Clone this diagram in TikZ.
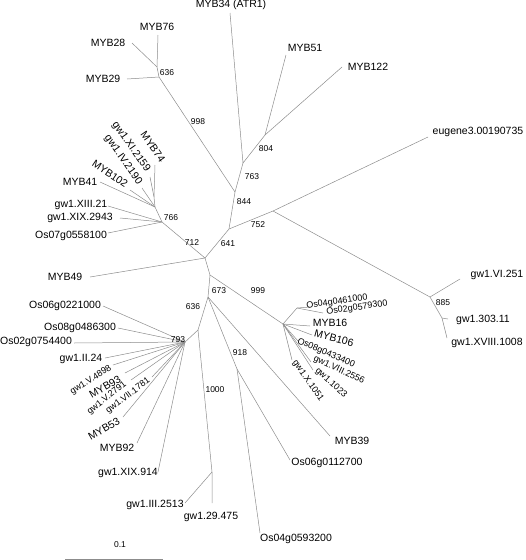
\documentclass[tikz,border=0pt]{standalone}
\usepackage{fontspec}
\setmainfont{Liberation Sans}
\begin{document}
\begin{tikzpicture}[x=1pt, y=-1pt,
  every node/.style={inner sep=0pt, font=\fontsize{10.5}{12}\selectfont},
  br/.style={draw=black!45, line width=0.5pt},
  boot/.style={font=\fontsize{8.5}{10}\selectfont},
  sm/.style={font=\fontsize{9}{10}\selectfont}]
\useasboundingbox (0,0) rectangle (526,560);
% internal nodes
\coordinate (a636) at (157,67);
\coordinate (b636) at (159,77);
\coordinate (n763) at (243,163);
\coordinate (n804) at (265,135);
\coordinate (n844) at (235,192);
\coordinate (n641) at (229,229);
\coordinate (n752) at (273,211);
\coordinate (n885) at (430,297);
\coordinate (n885b) at (442,318);
\coordinate (ctr) at (205,258);
\coordinate (n712) at (162,222);
\coordinate (n766) at (155,207);
\coordinate (n766b) at (154,197);
\coordinate (n673) at (210,275);
\coordinate (n673b) at (208,297);
\coordinate (n636) at (198,330);
\coordinate (n793) at (185,342);
\coordinate (n1000) at (212,472);
\coordinate (n918) at (237,369);
\coordinate (n999) at (283,324);
\coordinate (n999b) at (297,308);
% leaf ends
\coordinate (e76) at (158,35);
\coordinate (e28) at (132,43);
\coordinate (e29) at (127,79);
\coordinate (e34) at (230,13);
\coordinate (e51) at (286,55);
\coordinate (e122) at (342,67);
\coordinate (eeug) at (428,137);
\coordinate (evi) at (460,279);
\coordinate (e303) at (448,319);
\coordinate (exviii) at (447,338);
\coordinate (e49) at (90,277);
\coordinate (e74) at (155,165);
\coordinate (exi) at (150,177);
\coordinate (eiv) at (142,188);
\coordinate (e102) at (130,190);
\coordinate (e41) at (100,182);
\coordinate (exiii) at (108,206);
\coordinate (exix) at (120,218);
\coordinate (eos07) at (108,233);
\coordinate (eos0446) at (310,307);
\coordinate (eos02) at (323,313);
\coordinate (e16) at (310,326);
\coordinate (e106) at (312,335);
\coordinate (eos08) at (298,341);
\coordinate (eviii) at (311,362);
\coordinate (e1023) at (313,370);
\coordinate (ex) at (292,360);
\coordinate (e39) at (330,436);
\coordinate (eos06) at (290,460);
\coordinate (eos0459) at (260,533);
\coordinate (e29475) at (212,503);
\coordinate (eiii) at (185,503);
\coordinate (eos0622) at (103,306);
\coordinate (eos0848) at (118,328);
\coordinate (eos0275) at (74,343);
\coordinate (eii) at (105,358);
\coordinate (ev48) at (113,365);
\coordinate (e93) at (125,373);
\coordinate (ev27) at (131,380);
\coordinate (evii) at (152,377);
\coordinate (e53) at (123,417);
\coordinate (e92) at (137,443);
\coordinate (exix914) at (158,472);
% branches
\draw[br] (e76) -- (a636) -- (b636);
\draw[br] (e28) -- (a636);
\draw[br] (e29) -- (b636) -- (n844);
\draw[br] (e34) -- (n763) -- (n804) -- (e51);
\draw[br] (n804) -- (e122);
\draw[br] (n763) -- (n844) -- (n641) -- (ctr);
\draw[br] (n641) -- (n752) -- (eeug);
\draw[br] (n752) -- (n885) -- (evi);
\draw[br] (n885) -- (n885b) -- (exviii);
\draw[br] (n885b) -- (e303);
\draw[br] (e49) -- (ctr) -- (n712) -- (n766) -- (n766b) -- (e74);
\draw[br] (n766b) -- (exi);
\draw[br] (n766) -- (eiv);
\draw[br] (n766) -- (e102);
\draw[br] (n766) -- (e41);
\draw[br] (n712) -- (exiii);
\draw[br] (n712) -- (exix);
\draw[br] (n712) -- (eos07);
\draw[br] (ctr) -- (n673) -- (n999) -- (n999b) -- (eos0446);
\draw[br] (n999b) -- (eos02);
\draw[br] (n999) -- (e16);
\draw[br] (n999) -- (e106);
\draw[br] (n999) -- (eos08);
\draw[br] (n999) -- (eviii);
\draw[br] (n999) -- (e1023);
\draw[br] (n999) -- (ex);
\draw[br] (n673) -- (n673b) -- (e39);
\draw[br] (n673b) -- (n918) -- (eos06);
\draw[br] (n918) -- (eos0459);
\draw[br] (n673b) -- (n636) -- (n1000) -- (e29475);
\draw[br] (n1000) -- (eiii);
\draw[br] (n636) -- (n793);
\foreach \e in {eos0622,eos0848,eos0275,eii,ev48,e93,ev27,evii,e53,e92,exix914}
  \draw[br] (n793) -- (\e);
% leaf labels
\node (t76) at (157,27) {MYB76};
\node (t28) at (108,43) {MYB28};
\node (t29) at (103,79) {MYB29};
\node (t34) at (231,5) {MYB34 (ATR1)};
\node (t51) at (305,48) {MYB51};
\node (t122) at (368,67) {MYB122};
\node (teug) at (478,132) {eugene3.00190735};
\node (tvi) at (497,275) {gw1.VI.251};
\node (t303) at (483,320) {gw1.303.11};
\node (txviii) at (487,343) {gw1.XVIII.1008};
\node (t49) at (65,277) {MYB49};
\node[rotate=-55] (t74) at (153,147) {MYB74};
\node[rotate=-55] (txi) at (131,147) {gw1.XI.2159};
\node[rotate=-55] (tiv) at (123,160) {gw1.IV.2190};
\node[rotate=-34] (t102) at (110,174) {MYB102};
\node (t41) at (80,182) {MYB41};
\node (txiii) at (81,205) {gw1.XIII.21};
\node (txix) at (80,218) {gw1.XIX.2943};
\node (tos07) at (71,236) {Os07g0558100};
\node[sm, rotate=8] (tos0446) at (337,302) {Os04g0461000};
\node[sm, rotate=8] (tos02) at (357,308) {Os02g0579300};
\node (t16) at (330,323) {MYB16};
\node[rotate=-15] (t106) at (334,338) {MYB106};
\node[sm, rotate=-23] (tos08) at (326,353) {Os08g0433400};
\node[sm, rotate=-25] (tviii) at (339,370) {gw1.VIII.2556};
\node[sm, rotate=-42] (t1023) at (331,383) {gw1.1023};
\node[sm, rotate=-55] (tx) at (308,381) {gw1.X.1051};
\node (t39) at (352,441) {MYB39};
\node (tos06) at (327,463) {Os06g0112700};
\node (tos0459) at (296,539) {Os04g0593200};
\node (t29475) at (211,517) {gw1.29.475};
\node (tiii) at (155,505) {gw1.III.2513};
\node (tos0622) at (65,306) {Os06g0221000};
\node (tos0848) at (80,328) {Os08g0486300};
\node (tos0275) at (36,342) {Os02g0754400};
\node (tii) at (81,359) {gw1.II.24};
\node[sm, rotate=32] (tv48) at (91,380) {gw1.V.4898};
\node[rotate=30] (t93) at (105,387) {MYB93};
\node[sm, rotate=38] (tv27) at (107,398) {gw1.V.2791};
\node[sm, rotate=37] (tvii) at (128,396) {gw1.VII.1781};
\node[rotate=30] (t53) at (104,429) {MYB53};
\node (t92) at (117,448) {MYB92};
\node (txix914) at (128,473) {gw1.XIX.914};
% bootstrap values
\node[boot] (b1) at (167,73) {636};
\node[boot] (b2) at (198,122) {998};
\node[boot] (b3) at (266,149) {804};
\node[boot] (b4) at (252,177) {763};
\node[boot] (b5) at (244,202) {844};
\node[boot] (b6) at (258,225) {752};
\node[boot] (b7) at (228,244) {641};
\node[boot] (b8) at (192,243) {712};
\node[boot] (b9) at (171,218) {766};
\node[boot] (b10) at (219,291) {673};
\node[boot] (b11) at (258,291) {999};
\node[boot] (b12) at (193,307) {636};
\node[boot] (b13) at (178,340) {793};
\node[boot] (b14) at (240,353) {918};
\node[boot] (b15) at (215,390) {1000};
\node[boot] (b16) at (443,303) {885};
% scale bar
\coordinate (s0) at (65,559);
\coordinate (s1) at (163,559);
\draw[br] (s0) -- (s1);
\node[boot] (sc) at (120,545) {0.1};
\end{tikzpicture}
\end{document}
